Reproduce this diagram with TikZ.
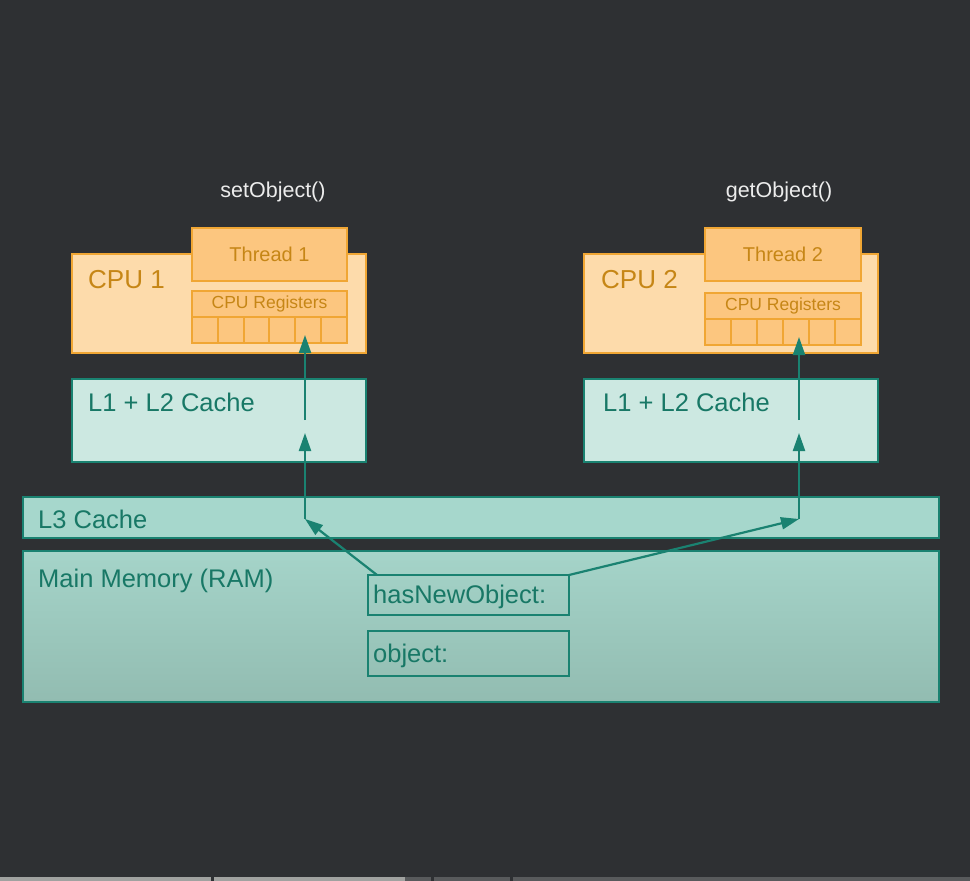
\documentclass[tikz,border=0pt]{standalone}
\usepackage{fontspec}
\setmainfont{Liberation Sans}
\usetikzlibrary{arrows.meta}
\definecolor{bg}{RGB}{46,48,51}
\definecolor{cpufill}{RGB}{253,219,171}
\definecolor{cpuline}{RGB}{240,166,52}
\definecolor{thrfill}{RGB}{252,198,127}
\definecolor{cputext}{RGB}{198,134,22}
\definecolor{lfill}{RGB}{204,232,225}
\definecolor{tline}{RGB}{26,130,113}
\definecolor{ttext}{RGB}{24,120,102}
\definecolor{lthree}{RGB}{166,215,204}
\definecolor{memtop}{RGB}{165,212,201}
\definecolor{membot}{RGB}{146,188,177}
\definecolor{wtext}{RGB}{236,236,236}
\definecolor{barlight}{RGB}{160,162,160}
\definecolor{bardark}{RGB}{88,90,92}
\begin{document}
\begin{tikzpicture}[x=1pt,y=-1pt,
  box/.style={draw, line width=2pt, inner sep=0pt, outer sep=0pt, anchor=north west},
  cpubox/.style={box, draw=cpuline, fill=cpufill},
  thrbox/.style={box, draw=cpuline, fill=thrfill, text=cputext, font=\fontsize{20}{22}\selectfont},
  regbox/.style={box, draw=cpuline, fill=thrfill, text=cputext, font=\fontsize{17.5}{20}\selectfont},
  cellbox/.style={box, draw=cpuline, fill=thrfill, minimum width=25.83pt, minimum height=26pt},
  cachebox/.style={box, draw=tline, fill=lfill},
  l3box/.style={box, draw=tline, fill=lthree},
  membox/.style={box, draw=tline, top color=memtop, bottom color=membot},
  varbox/.style={box, draw=tline},
  cpulabel/.style={anchor=base west, inner sep=0pt, text=cputext, font=\fontsize{26}{30}\selectfont},
  tlabel/.style={anchor=base west, inner sep=0pt, text=ttext, font=\fontsize{25.5}{30}\selectfont},
  mlabel/.style={anchor=base, inner sep=0pt, text=wtext, font=\fontsize{21.5}{26}\selectfont},
  arr/.style={draw=tline, line width=2.2pt, -{Triangle[length=18pt,width=12pt]}}
]
\fill[bg] (0,0) rectangle (970,881);
\useasboundingbox (0,0) rectangle (970,881);

% method labels
\node[mlabel] (set) at (273,197) {setObject()};
\node[mlabel] (get) at (779,197) {getObject()};

% CPU 1
\node[cpubox, minimum width=294pt, minimum height=99pt] (cpu1) at (72,254) {};
\node[cpulabel] (cpu1l) at (88,288) {CPU 1};
\node[thrbox, minimum width=155pt, minimum height=53pt] (t1) at (192,228) {Thread 1};
\node[regbox, minimum width=155pt, minimum height=26pt] (r1) at (192,291) {CPU Registers};
\foreach \i in {0,...,5} {
  \node[cellbox] (r1c\i) at ({192+25.83*\i},317) {};
}

% CPU 2
\node[cpubox, minimum width=294pt, minimum height=99pt] (cpu2) at (584,254) {};
\node[cpulabel] (cpu2l) at (601,288) {CPU 2};
\node[thrbox, minimum width=156pt, minimum height=53pt] (t2) at (705,228) {Thread 2};
\node[regbox, minimum width=156pt, minimum height=26pt] (r2) at (705,293) {CPU Registers};
\foreach \i in {0,...,5} {
  \node[cellbox, minimum width=26pt] (r2c\i) at ({705+26*\i},319) {};
}

% L1 + L2 caches
\node[cachebox, minimum width=294pt, minimum height=83pt] (l1a) at (72,379) {};
\node[tlabel] (l1al) at (88,411) {L1 + L2 Cache};
\node[cachebox, minimum width=294pt, minimum height=83pt] (l1b) at (584,379) {};
\node[tlabel] (l1bl) at (603,411) {L1 + L2 Cache};

% L3 cache
\node[l3box, minimum width=916pt, minimum height=41pt] (l3) at (23,497) {};
\node[tlabel] (l3l) at (38,528) {L3 Cache};

% Main memory
\node[membox, minimum width=916pt, minimum height=151pt] (mem) at (23,551) {};
\node[tlabel] (meml) at (38,587) {Main Memory (RAM)};

\node[varbox, minimum width=201pt, minimum height=40pt] (hno) at (368,575) {};
\node[tlabel] (hnol) at (373,603) {hasNewObject:};
\node[varbox, minimum width=201pt, minimum height=45pt] (obj) at (368,631) {};
\node[tlabel] (objl) at (373,662) {object:};

% connector coordinates
\coordinate (aS) at ([xshift=9pt]hno.north west);
\coordinate (aC) at (305,519);
\coordinate (aG1) at (305,433);
\coordinate (aG2) at (305,420);
\coordinate (aT) at (305,335);
\coordinate (bS) at (hno.north east);
\coordinate (bC) at (799,519);
\coordinate (bG1) at (799,433);
\coordinate (bG2) at (799,420);
\coordinate (bT) at (799,337);

\draw[arr] (aS) -- (aC);
\draw[arr] (aC) -- (aG1);
\draw[arr] (aG2) -- (aT);
\draw[arr] (bS) -- (bC);
\draw[arr] (bC) -- (bG1);
\draw[arr] (bG2) -- (bT);

% video progress bar
\fill[barlight] (0,877) rectangle (211,881);
\fill[barlight] (214,877) rectangle (405,881);
\fill[bardark] (405,877) rectangle (431,881);
\fill[bardark] (434,877) rectangle (510,881);
\fill[bardark] (513,877) rectangle (970,881);
\end{tikzpicture}
\end{document}
